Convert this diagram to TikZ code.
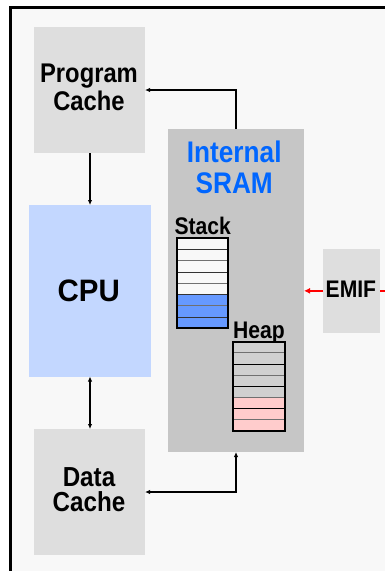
\documentclass[tikz,border=0pt]{standalone}
\usepackage{fontspec}
\setmainfont{Liberation Sans}
\newfontfamily\nar[FakeStretch=0.88]{Liberation Sans}
\newfontfamily\cpuf[FakeStretch=0.95]{Liberation Sans}
\usetikzlibrary{arrows.meta}
\definecolor{bgfill}{HTML}{F8F8F8}
\definecolor{cachegray}{HTML}{DEDEDE}
\definecolor{sramgray}{HTML}{C6C6C6}
\definecolor{cpublue}{HTML}{C3D7FF}
\definecolor{textblue}{HTML}{0066FF}
\definecolor{stackblue}{HTML}{6699FF}
\definecolor{heapgray}{HTML}{D0D0D0}
\definecolor{heappink}{HTML}{FFCCCC}
\definecolor{sepgray}{HTML}{707070}
\begin{document}
\begin{tikzpicture}[x=1pt,y=-1pt,
  blk/.style={draw=none, inner sep=0pt, outer sep=0pt, anchor=north west},
  lbl/.style={inner sep=0pt, outer sep=0pt, anchor=base, align=center, font=\bfseries\nar},
  arr/.style={line width=1.2pt, -{Latex[length=5pt,width=4.5pt]}},
  darr/.style={line width=1.2pt, {Latex[length=5pt,width=4.5pt]}-{Latex[length=5pt,width=4.5pt]}},
  redarr/.style={line width=1.8pt, red, -{Latex[length=6pt,width=6pt]}},
  memframe/.style={draw, line width=2pt, inner sep=0pt, outer sep=0pt, anchor=north west}
]
\useasboundingbox (0,0) rectangle (385,571);
\clip (0,0) rectangle (385,571);
\fill[white] (0,0) rectangle (385,571);
\draw[line width=3pt, fill=bgfill] (10.5,7.2) rectangle (430,630);

% blocks
\node[blk, fill=cachegray, minimum width=111pt, minimum height=126pt] (pc) at (34,27) {};
\node[blk, fill=cpublue, minimum width=122pt, minimum height=171.5pt] (cpu) at (29,205) {};
\node[blk, fill=cachegray, minimum width=111pt, minimum height=126pt] (dc) at (34,429) {};
\node[blk, fill=sramgray, minimum width=136pt, minimum height=323pt] (sram) at (168,129) {};
\node[blk, fill=cachegray, minimum width=57pt, minimum height=83.7pt] (emif) at (323,249) {};

% labels
\node[lbl, font=\bfseries\nar\fontsize{27}{27.3}\selectfont] (pct) at (89,110) {Program\\Cache};
\node[lbl, font=\bfseries\nar\fontsize{27.5}{25.7}\selectfont] (dct) at (89,511.7) {Data\\Cache};
\node[lbl, font=\bfseries\cpuf\fontsize{31}{31}\selectfont] (cput) at (88.7,301.7) {CPU};
\node[lbl, text=textblue, font=\bfseries\nar\fontsize{29.8}{31}\selectfont] (sramt) at (234.2,193.3) {Internal\\SRAM};
\node[lbl, font=\bfseries\nar\fontsize{24}{24}\selectfont] (emift) at (350.9,297.3) {EMIF};
\node[lbl, font=\bfseries\nar\fontsize{24}{24}\selectfont] (stackt) at (202.8,234) {Stack};
\node[lbl, font=\bfseries\nar\fontsize{24}{24}\selectfont] (heapt) at (259,338) {Heap};

% stack rows
\foreach \i in {0,...,7}{
  \pgfmathsetmacro{\ya}{238.3+11.25*\i}
  \pgfmathsetmacro{\yb}{238.3+11.25*(\i+1)}
  \ifnum\i<5 \def\rc{bgfill}\else\def\rc{stackblue}\fi
  \fill[\rc] (177.3,\ya) rectangle (228,\yb);
}
\foreach \i in {1,...,7}{
  \pgfmathsetmacro{\ya}{238.3+11.25*\i}
  \ifodd\i \def\lc{black!80}\else\def\lc{sepgray}\fi
  \draw[\lc, line width=1pt] (177.3,\ya) -- (228,\ya);
}
\node[memframe, minimum width=50.7pt, minimum height=90pt] (stack) at (177.3,238.3) {};

% heap rows
\foreach \i in {0,...,7}{
  \pgfmathsetmacro{\ya}{341.7+11.16*\i}
  \pgfmathsetmacro{\yb}{341.7+11.16*(\i+1)}
  \ifnum\i<5 \def\rc{heapgray}\else\def\rc{heappink}\fi
  \fill[\rc] (233.3,\ya) rectangle (284.7,\yb);
}
\foreach \i in {1,...,7}{
  \pgfmathsetmacro{\ya}{341.7+11.16*\i}
  \ifodd\i \def\lc{sepgray}\else\def\lc{black}\fi
  \draw[\lc, line width=1pt] (233.3,\ya) -- (284.7,\ya);
}
\node[memframe, minimum width=51.4pt, minimum height=89.3pt] (heap) at (233.3,341.7) {};

% connectors
\draw[arr] (sram.north) |- (pc.east);
\draw[arr] (pc.south -| cpu.north) -- (cpu.north);
\draw[darr] (cpu.south) -- (cpu.south |- dc.north);
\draw[darr] (dc.east) -| (sram.south);
\draw[redarr] (emif.west) -- (emif.west -| sram.east);
\coordinate (ext) at (400,291);
\draw[red, line width=1.8pt] (emif.east) -- (emif.east -| ext);
\end{tikzpicture}
\end{document}
